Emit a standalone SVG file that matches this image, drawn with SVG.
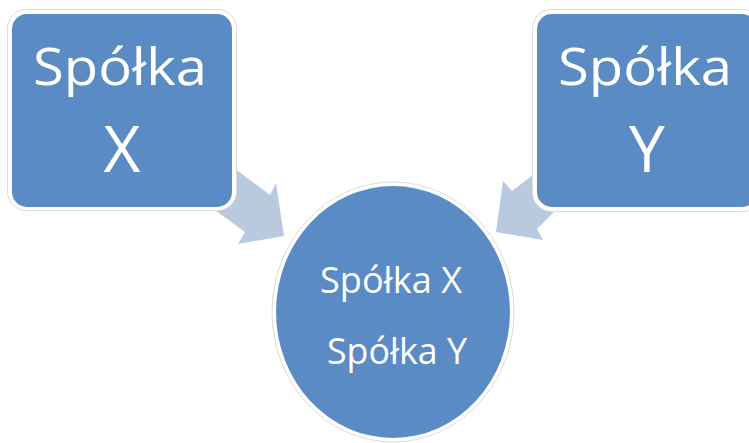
<svg xmlns="http://www.w3.org/2000/svg" width="749" height="443" viewBox="0 0 749 443">
<style>
.frame{fill:#ffffff;stroke:#dcdcdc;stroke-width:1}
.blue{fill:#5b8bc5}
.arrow{fill:#b9c9df}
.big{font-family:"Open Sans","Noto Sans",sans-serif;font-size:52px;fill:#ffffff;text-anchor:middle}
.letter{font-family:"Open Sans","Noto Sans",sans-serif;font-size:64px;fill:#ffffff;text-anchor:middle}
.small{font-family:"Open Sans","Noto Sans",sans-serif;font-size:36px;fill:#ffffff;text-anchor:middle}
</style>
<rect width="749" height="443" fill="#ffffff"/>
<g id="connectors">
<polygon class="arrow" points="210,150 270,195 276,183 284,236 238,244 245,232 190,192"/>
<polygon class="arrow" points="555,158 512,191 503,181 496,232 543,240 537,229 570,196"/>
</g>
<g id="node-x">
<rect class="frame" x="7.5" y="9.5" width="229" height="201" rx="19"/>
<rect class="blue" x="12" y="14" width="220" height="193" rx="15"/>
<text class="big" x="120" y="85" textLength="174" lengthAdjust="spacingAndGlyphs">Spółka</text>
<text class="letter" x="122" y="172">X</text>
</g>
<g id="node-y">
<rect class="frame" x="532.5" y="9.5" width="229" height="202" rx="19"/>
<rect class="blue" x="537" y="14" width="220" height="193" rx="15"/>
<text class="big" x="645" y="85" textLength="174" lengthAdjust="spacingAndGlyphs">Spółka</text>
<text class="letter" x="647" y="172">Y</text>
</g>
<g id="node-xy">
<ellipse class="frame" cx="393" cy="312" rx="121" ry="130"/>
<ellipse class="blue" cx="393" cy="312" rx="117" ry="126"/>
<text class="small" x="391" y="293" textLength="142" lengthAdjust="spacingAndGlyphs">Spółka X</text>
<text class="small" x="397" y="364" textLength="140" lengthAdjust="spacingAndGlyphs">Spółka Y</text>
</g>
</svg>
